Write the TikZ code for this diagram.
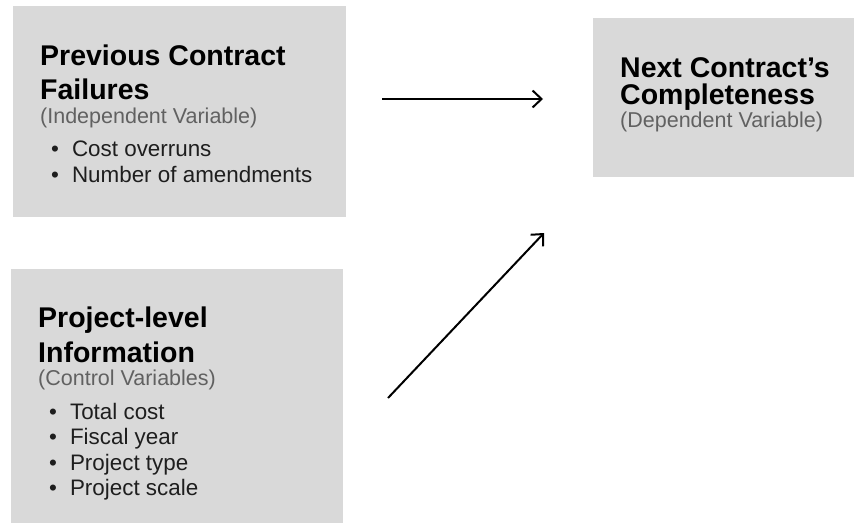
\documentclass[tikz,border=0pt]{standalone}
\usepackage{fontspec}
\setmainfont{Liberation Sans}
\usepackage{tikz}
\usetikzlibrary{arrows.meta}
\definecolor{boxgray}{HTML}{D9D9D9}
\definecolor{subgray}{HTML}{616161}
\definecolor{itemblack}{HTML}{1E1E1E}
\newcommand{\itm}{\textbullet\hspace{13pt}}

\begin{document}
\begin{tikzpicture}[x=1pt,y=-1pt,
                    flow/.style={-{Straight Barb[length=9pt,width=17pt,line width=2pt]},line width=2pt,black}]
\tikzset{varbox/.style={fill=boxgray,draw=none,inner sep=0pt,anchor=north west}}
\tikzset{vartitle/.style={inner sep=0pt,anchor=north west,align=left,text=black,font=\fontsize{28.5}{#1}\selectfont\bfseries}}
\tikzset{varsub/.style={inner sep=0pt,anchor=base west,text=subgray,font=\fontsize{21.5}{24}\selectfont}}
\tikzset{varlist/.style={inner sep=0pt,anchor=north west,align=left,text=itemblack,font=\fontsize{22.4}{25.5}\selectfont}}

  \useasboundingbox (0,0) rectangle (854,523);

        % boxes
        \node[varbox,minimum width=333pt,minimum height=211pt]  (prev)  at (13,6)   {};
        \node[varbox,minimum width=332pt,minimum height=254pt]  (ctrl)  at (11,269) {};
        \node[varbox,minimum width=261pt,minimum height=159pt]  (next)  at (593,18) {};

        % independent variable
        \node[vartitle=34] (prevtitle) at ([shift={(27,39)}]prev.north west)  {Previous Contract\\Failures};
        \node[varsub]      (prevsub)   at ([shift={(27,117)}]prev.north west) {(Independent Variable)};
        \node[varlist]     (prevlist)  at ([shift={(38,135)}]prev.north west) {\itm Cost overruns\\\itm Number of amendments};

        % control variables
        \node[vartitle=35] (ctrltitle) at ([shift={(27,38)}]ctrl.north west)  {Project-level\\Information};
        \node[varsub]      (ctrlsub)   at ([shift={(27,116)}]ctrl.north west) {(Control Variables)};
        \node[varlist]     (ctrllist)  at ([shift={(38,134)}]ctrl.north west) {\itm Total cost\\\itm Fiscal year\\\itm Project type\\\itm Project scale};

        % dependent variable
        \node[vartitle=27] (nexttitle) at ([shift={(27,39)}]next.north west)  {Next Contract’s\\Completeness};
        \node[varsub]      (nextsub)   at ([shift={(27,109)}]next.north west) {(Dependent Variable)};

        \coordinate (prevout) at (382,99);
        \coordinate (nextin)  at (543,99);
        \coordinate (ctrlout) at (388,398);
        \coordinate (nextin2) at (544,233);

        \path[flow]
        (prevout) edge (nextin)
        (ctrlout) edge (nextin2)
        ; %end path

\end{tikzpicture}
\end{document}
